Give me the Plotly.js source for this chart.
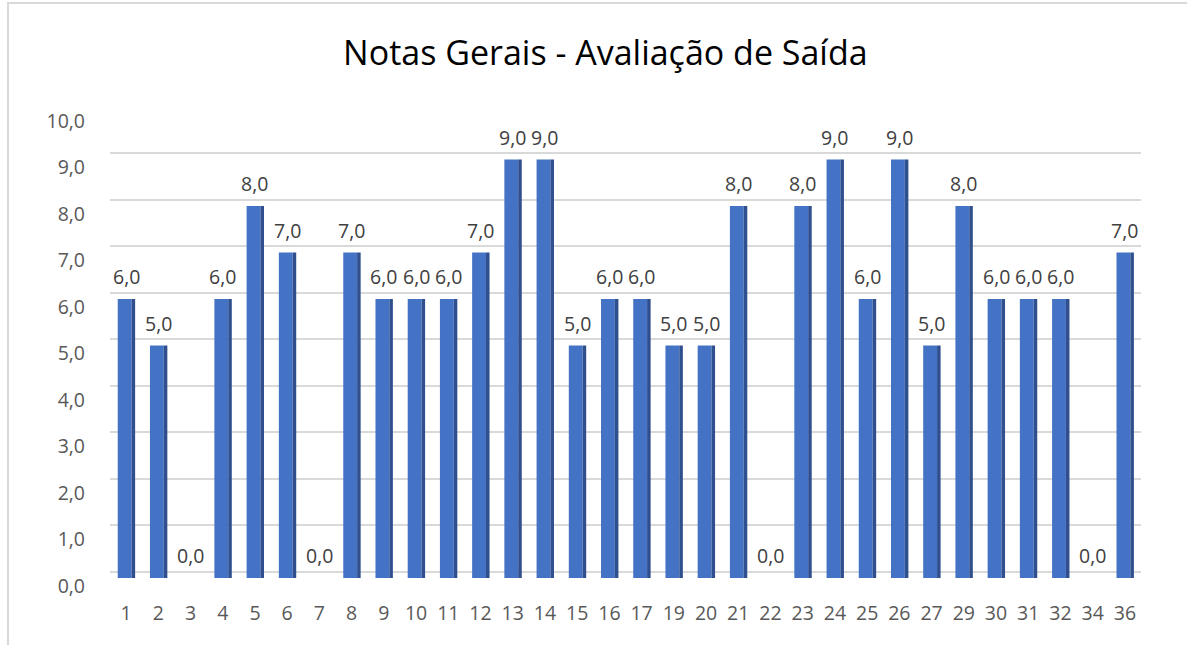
<!DOCTYPE html>
<html>
<head>
<meta charset="utf-8">
<script src="https://cdn.plot.ly/plotly-3.0.1.min.js"></script>
<style>
html,body{margin:0;padding:0;background:#fff;}
#chart{width:1187px;height:645px;}
#frame{position:absolute;left:7px;top:2px;width:1300px;height:800px;border-left:2px solid #d9d9d9;border-top:2px solid #d9d9d9;pointer-events:none;}
</style>
</head>
<body>
<div id="chart"></div>
<div id="frame"></div>
<script>
const categories = ["1","2","3","4","5","6","7","8","9","10","11","12","13","14","15","16","17","19","20","21","22","23","24","25","26","27","29","30","31","32","34","36"];
const notas = [6,5,0,6,8,7,0,7,6,6,6,7,9,9,5,6,6,5,5,8,0,8,9,6,9,5,8,6,6,6,0,7];
const yTicks = [0,1,2,3,4,5,6,7,8,9,10];
const titleText = "Notas Gerais - Avaliação de Saída";

const labelFont = {family: "Open Sans, Noto Sans, sans-serif", size: 19.5, color: "#404040"};

const front = {
  type: "bar", x: categories, y: notas,
  marker: {color: "#4472C4", line: {width: 0}},
  width: 0.43, offset: -0.26,
  hoverinfo: "x+y", showlegend: false
};
const side = {
  type: "bar", x: categories, y: notas,
  marker: {color: "#2F4F8F", line: {width: 0}},
  width: 0.11, offset: 0.17,
  hoverinfo: "skip", showlegend: false
};
// invisible carrier so the (shifted) back-wall grid axis is drawn
const gridCarrier = {
  type: "scatter", x: [categories[0]], y: [0], yaxis: "y2",
  mode: "markers", marker: {opacity: 0, size: 1}, hoverinfo: "skip", showlegend: false
};

const annotations = categories.map((c, i) => ({
  x: i, y: notas[i], xref: "x", yref: "y",
  text: notas[i].toFixed(1).replace(".", ","),
  showarrow: false, yanchor: "bottom", yshift: 7,
  font: labelFont
}));

const layout = {
  width: 1187, height: 645,
  paper_bgcolor: "#ffffff", plot_bgcolor: "rgba(0,0,0,0)",
  margin: {l: 110, r: 46, t: 113, b: 67},
  separators: ",.",
  barmode: "overlay",
  title: {
    text: titleText,
    font: {family: "Open Sans, sans-serif", size: 34, color: "#000000"},
    x: 0.51, xanchor: "center", xref: "container",
    y: 0.918, yanchor: "middle", yref: "container"
  },
  xaxis: {
    type: "category", range: [-0.5, categories.length - 0.5],
    showgrid: false, zeroline: false, showline: false,
    ticks: "", ticklabelstandoff: 21,
    tickfont: {family: "Open Sans, Noto Sans, sans-serif", size: 19.5, color: "#595959"}
  },
  yaxis: {
    range: [0, 10], tickvals: yTicks, tickformat: ".1f",
    showgrid: false, zeroline: false, showline: false, ticks: "",
    ticklabelstandoff: 24, ticklabelshift: 8,
    tickfont: {family: "Open Sans, Noto Sans, sans-serif", size: 19.5, color: "#595959"}
  },
  yaxis2: {
    overlaying: "y", range: [-0.13, 9.87], tickvals: yTicks,
    showgrid: true, gridcolor: "#D9D9D9", gridwidth: 2,
    showticklabels: false, zeroline: false, showline: false, ticks: ""
  },
  annotations: annotations
};

Plotly.newPlot("chart", [front, side, gridCarrier], layout, {displayModeBar: false, staticPlot: true});
</script>
</body>
</html>
